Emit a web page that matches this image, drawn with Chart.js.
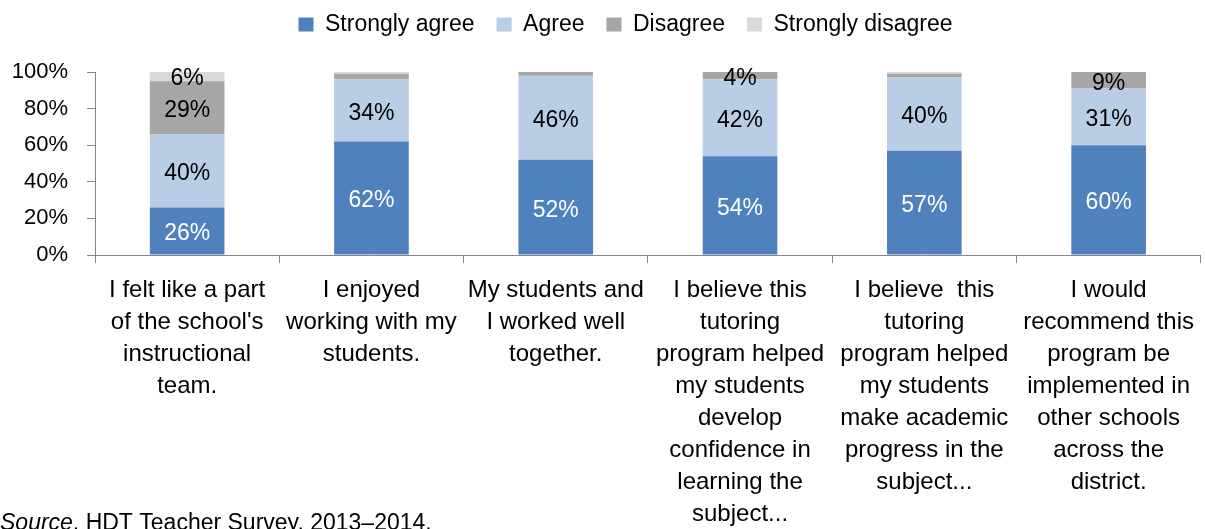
<!DOCTYPE html>
<html>
<head>
<meta charset="utf-8">
<script src="https://cdn.jsdelivr.net/npm/chart.js@4.4.1/dist/chart.umd.min.js"></script>
<style>
  html, body { margin: 0; padding: 0; background: #fff; }
  #wrap { width: 1205px; height: 529px; position: relative; }
</style>
</head>
<body>
<div id="wrap"><canvas id="surveyChart"></canvas></div>
<script>
const categories = [
    ["I felt like a part", "of the school's", "instructional", "team."],
    ["I enjoyed", "working with my", "students."],
    ["My students and", "I worked well", "together."],
    ["I believe this", "tutoring", "program helped", "my students", "develop", "confidence in", "learning the", "subject..."],
    ["I believe  this", "tutoring", "program helped", "my students", "make academic", "progress in the", "subject..."],
    ["I would", "recommend this", "program be", "implemented in", "other schools", "across the", "district."]
];
const stronglyAgree    = [26, 62, 52, 54, 57, 60];
const agree            = [40, 34, 46, 42, 40, 31];
const disagree         = [29, 3, 2, 4, 2, 9];
const stronglyDisagree = [6, 1, 0, 0, 1, 0];
const yTicks = [0, 20, 40, 60, 80, 100];

const FONT = "'Liberation Sans', Arial, sans-serif";

// writes the percentage in the middle of each segment big enough to hold it
const segmentLabels = {
    id: 'segmentLabels',
    afterDatasetsDraw(chart) {
        const ctx = chart.ctx;
        ctx.save();
        ctx.font = '23px ' + FONT;
        ctx.textAlign = 'center';
        ctx.textBaseline = 'middle';
        chart.data.datasets.forEach((ds, i) => {
            const meta = chart.getDatasetMeta(i);
            meta.data.forEach((bar, j) => {
                const v = ds.data[j];
                if (v < 4) return;
                ctx.fillStyle = i === 0 ? '#ffffff' : '#000000';
                const top = Math.max(bar.y, chart.chartArea.top - 6);
                ctx.fillText(v + '%', bar.x, (top + bar.base) / 2 + 3);
            });
        });
        ctx.restore();
    }
};

// legend band is a fixed 72px tall, nudged up and a bit to the right
const legendPlacement = {
    id: 'legendPlacement',
    afterInit(chart) {
        const legend = chart.legend;
        const fit = legend.fit;
        legend.fit = function () {
            fit.call(this);
            this.height = 72;
        };
    },
    afterLayout(chart) {
        chart.legend.left += 46;
        chart.legend.top -= 9;
    }
};

// source line in the lower left corner
const sourceNote = {
    id: 'sourceNote',
    afterDraw(chart) {
        const ctx = chart.ctx;
        ctx.save();
        ctx.fillStyle = '#000';
        ctx.textBaseline = 'top';
        ctx.textAlign = 'left';
        ctx.font = 'italic 23px ' + FONT;
        const lead = 'Source';
        ctx.fillText(lead, 0, 512);
        const w = ctx.measureText(lead).width;
        ctx.font = '23px ' + FONT;
        ctx.fillText('. HDT Teacher Survey, 2013\u20132014.', w, 512);
        ctx.restore();
    }
};

new Chart(document.getElementById('surveyChart'), {
    type: 'bar',
    data: {
        labels: categories,
        datasets: [
            { label: 'Strongly agree', data: stronglyAgree, backgroundColor: '#4F81BD' },
            { label: 'Agree', data: agree, backgroundColor: '#B9CDE5' },
            { label: 'Disagree', data: disagree, backgroundColor: '#A6A6A6' },
            { label: 'Strongly disagree', data: stronglyDisagree, backgroundColor: '#D9D9D9' }
        ]
    },
    options: {
        responsive: true,
        maintainAspectRatio: false,
        animation: false,
        barPercentage: 0.81,
        categoryPercentage: 0.5,
        layout: { padding: { left: 0, right: 0, top: 0, bottom: 0 } },
        plugins: {
            legend: {
                position: 'top',
                labels: {
                    boxWidth: 15,
                    boxHeight: 14,
                    padding: 22,
                    color: '#000',
                    font: { family: FONT, size: 23 }
                }
            },
            tooltip: { enabled: false }
        },
        scales: {
            x: {
                stacked: true,
                grid: {
                    offset: true,
                    drawOnChartArea: false,
                    tickLength: 8,
                    color: '#868686'
                },
                border: { color: '#868686' },
                ticks: {
                    color: '#000',
                    maxRotation: 0,
                    autoSkip: false,
                    padding: 11,
                    font: { family: FONT, size: 24, lineHeight: '32px' }
                },
                afterFit(scale) { scale.height = 274; }
            },
            y: {
                stacked: true,
                min: 0,
                max: 100,
                afterBuildTicks(scale) { scale.ticks = yTicks.map(v => ({ value: v })); },
                afterFit(scale) { scale.width = 95; },
                grid: {
                    drawOnChartArea: false,
                    tickLength: 8,
                    color: '#868686'
                },
                border: { color: '#868686' },
                ticks: {
                    color: '#000',
                    padding: 19,
                    font: { family: FONT, size: 22 },
                    callback: v => v + '%'
                }
            }
        }
    },
    plugins: [legendPlacement, segmentLabels, sourceNote]
});
</script>
</body>
</html>
